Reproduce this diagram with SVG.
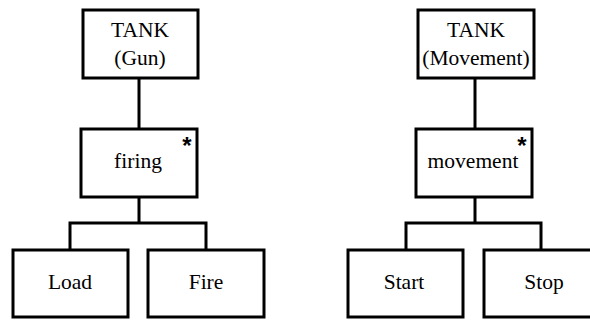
<svg xmlns="http://www.w3.org/2000/svg" width="590" height="320" viewBox="0 0 590 320">
<style>
.box{fill:#fff;stroke:#000;stroke-width:3}
.t{font-family:'Liberation Serif','Times New Roman',serif;font-size:21.5px;fill:#000;text-anchor:middle}
.star{font-family:'Liberation Sans',Arial,sans-serif;font-size:24px;font-weight:bold;fill:#000;text-anchor:middle}
.c{fill:none;stroke:#000;stroke-width:3}
</style>
<rect width="590" height="320" fill="#fff"/>
<g id="connectors">
<path class="c" d="M139,78 V129 M139,197 V223 M70,250 V223 H206 V250"/>
<path class="c" d="M475,78 V129 M475,197 V223 M406,250 V223 H541 V250"/>
</g>
<g id="tank-gun">
<rect class="box" x="83" y="10" width="115" height="68"/>
<text class="t" x="140" y="37">TANK</text>
<text class="t" x="140" y="65">(Gun)</text>
</g>
<g id="firing">
<rect class="box" x="81" y="129" width="116" height="68"/>
<text class="t" x="138" y="168">firing</text>
<text class="star" x="187" y="154">*</text>
</g>
<g id="load">
<rect class="box" x="13" y="250" width="115" height="67"/>
<text class="t" x="70" y="289">Load</text>
</g>
<g id="fire">
<rect class="box" x="148" y="250" width="116" height="67"/>
<text class="t" x="206" y="289">Fire</text>
</g>
<g id="tank-movement">
<rect class="box" x="418" y="10" width="116" height="68"/>
<text class="t" x="476" y="37">TANK</text>
<text class="t" x="476" y="65">(Movement)</text>
</g>
<g id="movement">
<rect class="box" x="416" y="129" width="116" height="68"/>
<text class="t" x="473" y="168">movement</text>
<text class="star" x="522" y="154">*</text>
</g>
<g id="start">
<rect class="box" x="348" y="250" width="115" height="67"/>
<text class="t" x="404" y="289">Start</text>
</g>
<g id="stop">
<rect class="box" x="484" y="250" width="116" height="67"/>
<text class="t" x="544" y="289">Stop</text>
</g>
</svg>
